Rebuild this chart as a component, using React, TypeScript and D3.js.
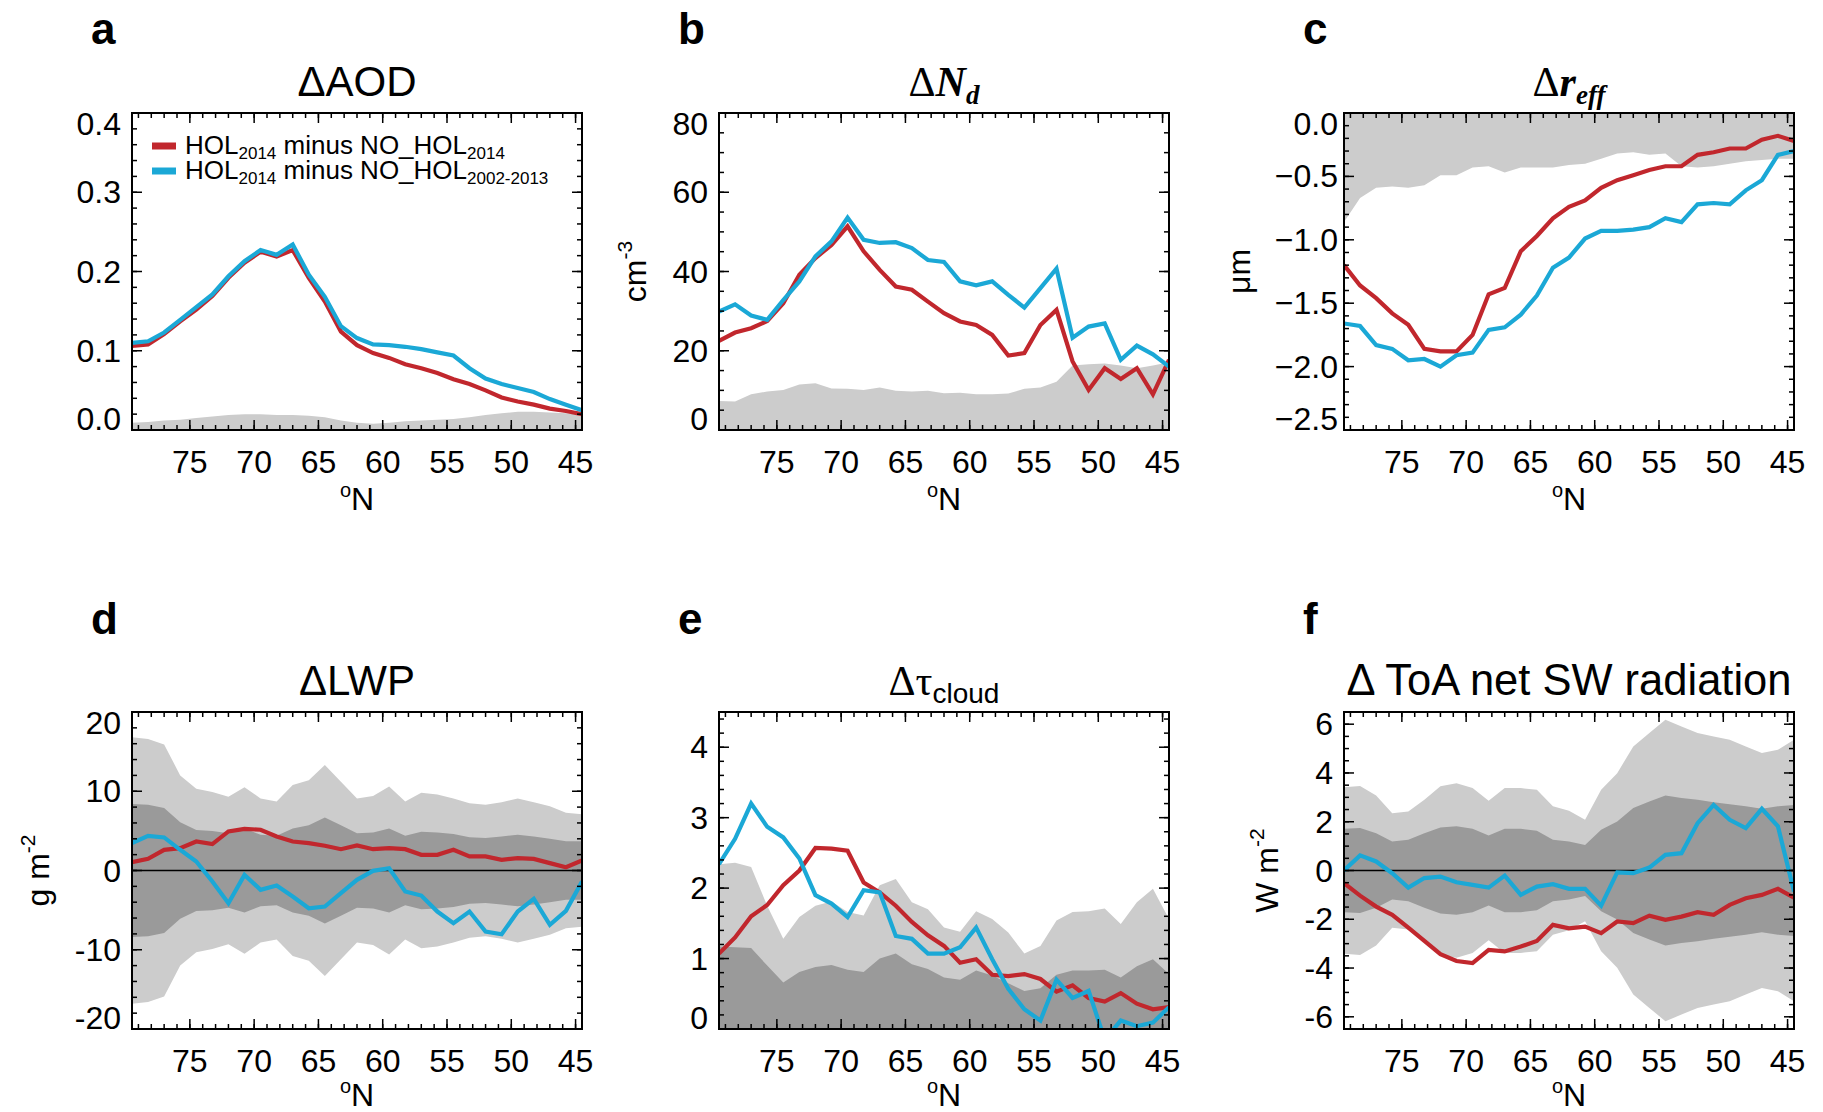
import React from "react";
import * as d3 from "d3";

// latitude bin centres (°N), 1.25° grid
const LAT = [
  79.5, 78.25, 77, 75.75, 74.5, 73.25, 72, 70.75, 69.5, 68.25, 67, 65.75, 64.5, 63.25, 62,
  60.75, 59.5, 58.25, 57, 55.75, 54.5, 53.25, 52, 50.75, 49.5, 48.25, 47, 45.75, 44.5,
];

// a: ΔAOD
const AOD_RED = [0.106, 0.108, 0.121, 0.137, 0.152, 0.169, 0.192, 0.211, 0.225, 0.219, 0.227, 0.192, 0.162, 0.124, 0.107, 0.097, 0.091, 0.083, 0.078, 0.072, 0.064, 0.058, 0.05, 0.041, 0.036, 0.032, 0.027, 0.024, 0.02];
const AOD_BLUE = [0.11, 0.112, 0.123, 0.139, 0.155, 0.171, 0.194, 0.213, 0.227, 0.221, 0.234, 0.196, 0.168, 0.131, 0.116, 0.108, 0.107, 0.105, 0.102, 0.098, 0.094, 0.078, 0.065, 0.058, 0.053, 0.048, 0.039, 0.032, 0.025];
const AOD_SPREAD = [0.009, 0.01, 0.012, 0.013, 0.015, 0.017, 0.019, 0.02, 0.02, 0.019, 0.019, 0.018, 0.016, 0.012, 0.009, 0.008, 0.009, 0.011, 0.012, 0.013, 0.014, 0.016, 0.019, 0.021, 0.023, 0.023, 0.022, 0.021, 0.02];

// b: ΔNd
const ND_RED = [22.5, 24.6, 25.7, 27.5, 32.0, 39.2, 43.4, 46.7, 51.4, 45.1, 40.4, 36.2, 35.4, 32.4, 29.5, 27.4, 26.5, 24.0, 18.8, 19.4, 26.5, 30.3, 17.3, 10.1, 15.6, 12.9, 15.6, 9.0, 17.7];
const ND_BLUE = [29.9, 31.7, 28.9, 27.8, 32.8, 37.5, 43.8, 47.6, 53.6, 48.0, 47.2, 47.4, 45.9, 42.9, 42.4, 37.5, 36.5, 37.5, 34.1, 30.9, 35.8, 40.7, 23.3, 26.1, 26.9, 17.7, 21.3, 19.1, 16.0];
const ND_SPREAD = [7.3, 7.2, 9.0, 9.7, 10.1, 11.5, 11.8, 10.5, 10.4, 10.1, 10.7, 9.9, 9.7, 9.9, 9.3, 9.4, 9.0, 9.0, 9.2, 10.4, 10.7, 12.2, 16.3, 16.6, 16.8, 16.3, 15.6, 16.3, 17.1];

// c: Δr_eff
const REFF_RED = [-1.2, -1.36, -1.46, -1.58, -1.67, -1.86, -1.88, -1.88, -1.75, -1.43, -1.38, -1.09, -0.97, -0.83, -0.74, -0.69, -0.59, -0.53, -0.49, -0.45, -0.42, -0.42, -0.33, -0.31, -0.28, -0.28, -0.21, -0.18, -0.22];
const REFF_BLUE = [-1.66, -1.68, -1.83, -1.86, -1.95, -1.94, -2.0, -1.91, -1.89, -1.71, -1.69, -1.59, -1.44, -1.22, -1.14, -0.99, -0.93, -0.93, -0.92, -0.9, -0.83, -0.86, -0.72, -0.71, -0.72, -0.61, -0.53, -0.33, -0.3];
const REFF_SPREAD = [-0.86, -0.67, -0.59, -0.58, -0.59, -0.57, -0.49, -0.49, -0.43, -0.42, -0.47, -0.43, -0.43, -0.43, -0.41, -0.4, -0.36, -0.32, -0.31, -0.33, -0.32, -0.42, -0.43, -0.42, -0.4, -0.38, -0.37, -0.36, -0.36];

// d: ΔLWP
const LWP_RED = [1.05, 1.47, 2.61, 2.82, 3.66, 3.33, 4.93, 5.26, 5.14, 4.29, 3.66, 3.45, 3.12, 2.69, 3.16, 2.69, 2.82, 2.69, 1.98, 1.98, 2.61, 1.77, 1.77, 1.35, 1.56, 1.47, 0.93, 0.42, 1.26];
const LWP_BLUE = [3.45, 4.38, 4.17, 2.61, 1.14, -1.39, -4.13, -0.55, -2.44, -1.89, -3.28, -4.76, -4.55, -2.86, -1.18, -0.04, 0.29, -2.65, -3.16, -5.18, -6.65, -5.18, -7.71, -8.04, -5.18, -3.58, -6.86, -5.09, -1.39];
const LWP_LIGHT = [16.8, 16.6, 15.9, 12.0, 10.3, 9.9, 9.3, 10.5, 9.1, 8.7, 10.8, 11.4, 13.3, 11.2, 9.1, 9.4, 10.6, 8.7, 9.8, 9.6, 9.1, 8.5, 8.3, 8.6, 9.1, 8.6, 8.1, 7.3, 7.1];
const LWP_DARK = [8.4, 8.3, 7.9, 6.1, 5.1, 5.0, 4.7, 5.3, 4.5, 4.4, 5.3, 5.7, 6.7, 5.7, 4.7, 4.8, 5.3, 4.4, 4.9, 4.8, 4.6, 4.2, 4.1, 4.3, 4.5, 4.3, 4.0, 3.7, 3.7];

// e: Δτ_cloud
const TAU_RED = [1.07, 1.3, 1.6, 1.76, 2.04, 2.25, 2.57, 2.56, 2.53, 2.08, 1.94, 1.75, 1.52, 1.33, 1.18, 0.94, 0.99, 0.77, 0.75, 0.78, 0.71, 0.53, 0.62, 0.44, 0.39, 0.51, 0.36, 0.28, 0.31];
const TAU_BLUE = [2.34, 2.7, 3.2, 2.87, 2.72, 2.42, 1.9, 1.78, 1.59, 1.97, 1.94, 1.32, 1.28, 1.07, 1.07, 1.16, 1.44, 0.99, 0.57, 0.28, 0.12, 0.7, 0.44, 0.54, -0.15, 0.12, 0.04, 0.09, 0.31];
const TAU_LIGHT = [2.34, 2.36, 2.3, 1.75, 1.28, 1.59, 1.75, 1.81, 1.66, 1.61, 2.04, 2.13, 1.8, 1.7, 1.44, 1.38, 1.67, 1.56, 1.37, 1.07, 1.18, 1.54, 1.66, 1.67, 1.71, 1.49, 1.8, 1.99, 1.56];
const TAU_DARK = [1.17, 1.16, 1.15, 0.9, 0.66, 0.81, 0.88, 0.91, 0.84, 0.81, 1.0, 1.07, 0.92, 0.85, 0.73, 0.7, 0.83, 0.76, 0.65, 0.54, 0.58, 0.77, 0.83, 0.83, 0.84, 0.73, 0.89, 0.99, 0.78];

// f: Δ ToA net SW radiation
const SW_RED = [-0.52, -1.03, -1.48, -1.82, -2.34, -2.89, -3.43, -3.71, -3.8, -3.26, -3.32, -3.12, -2.89, -2.23, -2.37, -2.3, -2.57, -2.09, -2.16, -1.85, -2.02, -1.89, -1.71, -1.82, -1.41, -1.14, -1.0, -0.75, -1.11];
const SW_BLUE = [0.0, 0.62, 0.37, -0.11, -0.7, -0.31, -0.25, -0.48, -0.59, -0.7, -0.21, -1.0, -0.66, -0.56, -0.75, -0.75, -1.44, -0.08, -0.11, 0.12, 0.64, 0.71, 1.94, 2.69, 2.08, 1.74, 2.53, 1.81, -0.86];
const SW_LIGHT = [3.41, 3.47, 3.08, 2.35, 2.42, 2.9, 3.45, 3.58, 3.38, 2.86, 3.38, 3.38, 3.31, 2.63, 2.45, 2.08, 3.31, 3.99, 5.09, 5.64, 6.18, 5.91, 5.64, 5.5, 5.36, 5.09, 4.82, 4.95, 5.36];
const SW_DARK = [1.71, 1.74, 1.53, 1.19, 1.26, 1.53, 1.76, 1.81, 1.71, 1.44, 1.71, 1.71, 1.63, 1.26, 1.19, 1.05, 1.67, 2.01, 2.56, 2.83, 3.08, 2.97, 2.9, 2.8, 2.72, 2.63, 2.53, 2.63, 2.69];

const X_MAJOR = [75, 70, 65, 60, 55, 50, 45];

const RED = "#c1272d";
const BLUE = "#1ba8d6";
const LIGHT = "#cccccc";
const DARK = "#9a9a9a";
const SANS = "'Liberation Sans', Arial, Helvetica, sans-serif";
const SERIF = "'Liberation Serif', 'Times New Roman', serif";

const PW = 450;
const PH = 317;
const COL_X = [132, 719, 1344];
const ROW_Y = [113, 712];
const LETTER_Y = [44, 634];
const XNAME_DY = [80, 77];

type Band = { values: number[]; fill: string; mirror?: boolean };

type Spec = {
  letter: string;
  col: number;
  row: number;
  domain: [number, number];
  major: number[];
  minorStep: number;
  fmt: (v: number) => string;
  bands: Band[];
  red: number[];
  blue: number[];
  zeroLine?: boolean;
  legend?: boolean;
  title: React.ReactNode;
  ylabel?: React.ReactNode;
  ylabelX?: number;
  labelGap?: number;
};

const f1 = d3.format(".1f");
const f0 = (v: number) => String(v);

const sup = (s: string) => (
  <tspan fontSize={21} dy={-14}>
    {s}
  </tspan>
);

const PANELS: Spec[] = [
  {
    letter: "a", col: 0, row: 0, domain: [0, 0.4], major: [0, 0.1, 0.2, 0.3, 0.4], minorStep: 0.02, fmt: f1,
    bands: [{ values: AOD_SPREAD, fill: LIGHT }], red: AOD_RED, blue: AOD_BLUE, legend: true,
    title: <text fontSize={42}>ΔAOD</text>,
  },
  {
    letter: "b", col: 1, row: 0, domain: [0, 80], major: [0, 20, 40, 60, 80], minorStep: 5, fmt: f0,
    bands: [{ values: ND_SPREAD, fill: LIGHT }], red: ND_RED, blue: ND_BLUE,
    title: (
      <text fontSize={42} fontFamily={SERIF}>
        Δ<tspan fontStyle="italic" fontWeight="bold">N</tspan>
        <tspan fontStyle="italic" fontWeight="bold" fontSize={27} dy={8}>d</tspan>
      </text>
    ),
    ylabel: <>cm{sup("-3")}</>, ylabelX: -73,
  },
  {
    letter: "c", col: 2, row: 0, domain: [-2.5, 0], major: [0, -0.5, -1, -1.5, -2, -2.5], minorStep: 0.1, fmt: f1,
    bands: [{ values: REFF_SPREAD, fill: LIGHT }], red: REFF_RED, blue: REFF_BLUE, labelGap: 6,
    title: (
      <text fontSize={42} fontFamily={SERIF}>
        Δ<tspan fontStyle="italic" fontWeight="bold">r</tspan>
        <tspan fontStyle="italic" fontWeight="bold" fontSize={27} dy={8}>eff</tspan>
      </text>
    ),
    ylabel: <>μm</>, ylabelX: -94,
  },
  {
    letter: "d", col: 0, row: 1, domain: [-20, 20], major: [-20, -10, 0, 10, 20], minorStep: 2, fmt: f0,
    bands: [{ values: LWP_LIGHT, fill: LIGHT, mirror: true }, { values: LWP_DARK, fill: DARK, mirror: true }],
    red: LWP_RED, blue: LWP_BLUE, zeroLine: true,
    title: <text fontSize={42}>ΔLWP</text>,
    ylabel: <>g m{sup("-2")}</>, ylabelX: -83,
  },
  {
    letter: "e", col: 1, row: 1, domain: [0, 4.5], major: [0, 1, 2, 3, 4], minorStep: 0.2, fmt: f0,
    bands: [{ values: TAU_LIGHT, fill: LIGHT }, { values: TAU_DARK, fill: DARK }], red: TAU_RED, blue: TAU_BLUE,
    title: (
      <text fontSize={42}>
        <tspan fontFamily={SERIF}>Δτ</tspan>
        <tspan fontSize={28} dy={8}>cloud</tspan>
      </text>
    ),
  },
  {
    letter: "f", col: 2, row: 1, domain: [-6.5, 6.5], major: [-6, -4, -2, 0, 2, 4, 6], minorStep: 0.5, fmt: f0,
    bands: [{ values: SW_LIGHT, fill: LIGHT, mirror: true }, { values: SW_DARK, fill: DARK, mirror: true }],
    red: SW_RED, blue: SW_BLUE, zeroLine: true,
    title: <text fontSize={43.5}>Δ ToA net SW radiation</text>,
    ylabel: <>W m{sup("-2")}</>, ylabelX: -66,
  },
];

const Panel = ({ spec }: { spec: Spec }) => {
  const x0 = COL_X[spec.col];
  const y0 = ROW_Y[spec.row];
  const x = d3.scaleLinear().domain([79.5, 44.5]).range([0, PW]);
  const y = d3.scaleLinear().domain(spec.domain).range([PH, 0]);
  const line = d3.line<number>().x((_, i) => x(LAT[i])).y((d) => y(d));
  const area = (b: Band) =>
    d3.area<number>()
      .x((_, i) => x(LAT[i]))
      .y0((d) => y(b.mirror ? -d : 0))
      .y1((d) => y(d))(b.values);

  const [lo, hi] = spec.domain;
  const step = spec.minorStep;
  const minorY = d3
    .range(Math.ceil(lo / step - 1e-6), Math.floor(hi / step + 1e-6) + 1)
    .map((k) => k * step);
  const minorX = d3.range(45, 80);
  const clipId = `clip-${spec.letter}`;
  const titleEl = spec.title as React.ReactElement<any>;

  return (
    <>
      <text x={x0 - 41} y={LETTER_Y[spec.row]} fontSize={44} fontWeight="bold">
        {spec.letter}
      </text>
      <g transform={`translate(${x0},${y0})`}>
        {React.cloneElement(titleEl, { x: PW / 2, y: -17, textAnchor: "middle" })}
        <clipPath id={clipId}>
          <rect x={0} y={0} width={PW} height={PH} />
        </clipPath>
        <g clipPath={`url(#${clipId})`}>
          {spec.bands.map((b, i) => (
            <path key={i} d={area(b) || ""} fill={b.fill} />
          ))}
          {spec.zeroLine && <line x1={0} x2={PW} y1={y(0)} y2={y(0)} stroke="#000" strokeWidth={1.6} />}
          <path d={line(spec.red) || ""} fill="none" stroke={RED} strokeWidth={4.2} />
          <path d={line(spec.blue) || ""} fill="none" stroke={BLUE} strokeWidth={4.2} />
        </g>

        <g stroke="#000" strokeWidth={1.5}>
          {minorX.map((v) => (
            <React.Fragment key={`mx${v}`}>
              <line x1={x(v)} x2={x(v)} y1={PH} y2={PH - 5} />
              <line x1={x(v)} x2={x(v)} y1={0} y2={5} />
            </React.Fragment>
          ))}
          {X_MAJOR.map((v) => (
            <React.Fragment key={`Mx${v}`}>
              <line x1={x(v)} x2={x(v)} y1={PH} y2={PH - 10} />
              <line x1={x(v)} x2={x(v)} y1={0} y2={10} />
            </React.Fragment>
          ))}
          {minorY.map((v) => (
            <React.Fragment key={`my${v}`}>
              <line x1={0} x2={5} y1={y(v)} y2={y(v)} />
              <line x1={PW} x2={PW - 5} y1={y(v)} y2={y(v)} />
            </React.Fragment>
          ))}
          {spec.major.map((v) => (
            <React.Fragment key={`My${v}`}>
              <line x1={0} x2={10} y1={y(v)} y2={y(v)} />
              <line x1={PW} x2={PW - 10} y1={y(v)} y2={y(v)} />
            </React.Fragment>
          ))}
        </g>
        <rect x={0} y={0} width={PW} height={PH} fill="none" stroke="#000" strokeWidth={2} />

        {spec.major.map((v) => {
          const py = y(v);
          const shift = py < 3 ? 11 : py > PH - 3 ? -11 : 0;
          return (
            <text key={`ly${v}`} x={-(spec.labelGap ?? 11)} y={py + shift} textAnchor="end" dominantBaseline="central" fontSize={32}>
              {spec.fmt(v)}
            </text>
          );
        })}
        {X_MAJOR.map((v) => (
          <text key={`lx${v}`} x={x(v)} y={PH + 43} textAnchor="middle" fontSize={32}>
            {v}
          </text>
        ))}
        <text x={PW / 2} y={PH + XNAME_DY[spec.row]} textAnchor="middle" fontSize={32}>
          <tspan fontSize={20} dy={-13}>o</tspan>
          <tspan dy={13}>N</tspan>
        </text>

        {spec.ylabel && (
          <text transform={`translate(${spec.ylabelX},${PH / 2}) rotate(-90)`} textAnchor="middle" fontSize={32}>
            {spec.ylabel}
          </text>
        )}

        {spec.legend && (
          <g>
            <line x1={20} x2={44} y1={33} y2={33} stroke={RED} strokeWidth={7} />
            <line x1={20} x2={44} y1={58} y2={58} stroke={BLUE} strokeWidth={7} />
            <text x={53} y={41} fontSize={26}>
              HOL<tspan fontSize={17} dy={5}>2014</tspan>
              <tspan dy={-5}> minus NO_HOL</tspan>
              <tspan fontSize={17} dy={5}>2014</tspan>
            </text>
            <text x={53} y={66} fontSize={26}>
              HOL<tspan fontSize={17} dy={5}>2014</tspan>
              <tspan dy={-5}> minus NO_HOL</tspan>
              <tspan fontSize={17} dy={5}>2002-2013</tspan>
            </text>
          </g>
        )}
      </g>
    </>
  );
};

const App = () => (
  <svg
    width={1823}
    height={1112}
    style={{ position: "absolute", left: 0, top: 0, background: "#fff" }}
    fontFamily={SANS}
  >
    {PANELS.map((p) => (
      <Panel key={p.letter} spec={p} />
    ))}
  </svg>
);

export default App;
